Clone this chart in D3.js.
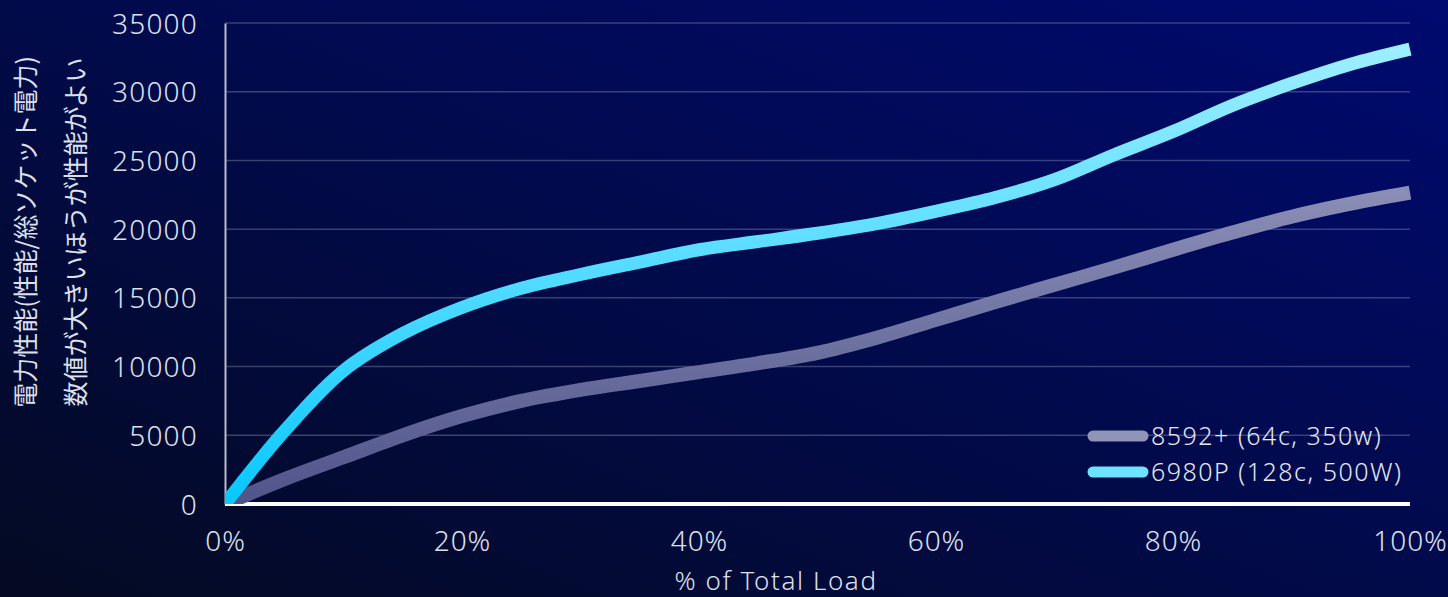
<!DOCTYPE html>
<html>
<head>
<meta charset="utf-8">
<script src="https://cdn.jsdelivr.net/npm/d3@7"></script>
<style>
  html, body { margin: 0; padding: 0; background: #020a30; }
  svg { display: block; }
  text { font-family: "Noto Sans", "Noto Sans CJK JP", sans-serif; }
</style>
</head>
<body>
<script>
const loadPct = [0, 5, 10, 15, 20, 25, 30, 35, 40, 45, 50, 55, 60, 65, 70, 75, 80, 85, 90, 95, 100];
const p8592 = [0, 1800, 3400, 5000, 6400, 7500, 8300, 8950, 9600, 10250, 11000, 12100, 13400, 14700, 15950, 17200, 18500, 19750, 20900, 21850, 22650];
const p6980 = [0, 5300, 9700, 12400, 14300, 15700, 16700, 17600, 18500, 19100, 19700, 20400, 21300, 22300, 23600, 25400, 27100, 29000, 30600, 32000, 33100];
const yTicks = [0, 5000, 10000, 15000, 20000, 25000, 30000, 35000];
const xTicks = [0, 20, 40, 60, 80, 100];
const seriesNames = ["8592+ (64c, 350w)", "6980P (128c, 500W)"];
const yTitle = ["電力性能(性能/総ソケット電力)", "数値が大きいほうが性能がよい"];
const xTitle = "% of Total Load";

const W = 1448, H = 597;
const plot = { left: 225, right: 1410, top: 23, bottom: 504 };

const svg = d3.select("body").append("svg")
  .attr("width", W)
  .attr("height", H);

const defs = svg.append("defs");

// background
const bg = defs.append("linearGradient")
  .attr("id", "bg")
  .attr("x1", 0).attr("y1", 1).attr("x2", 1).attr("y2", 0);
bg.append("stop").attr("offset", 0).attr("stop-color", "#040a22");
bg.append("stop").attr("offset", 0.45).attr("stop-color", "#020a46");
bg.append("stop").attr("offset", 1).attr("stop-color", "#000a70");

svg.append("rect")
  .attr("width", W)
  .attr("height", H)
  .attr("fill", "url(#bg)");

// line gradients (vertical)
function vGrad(id, low, high) {
  const g = defs.append("linearGradient")
    .attr("id", id)
    .attr("gradientUnits", "userSpaceOnUse")
    .attr("x1", 0).attr("y1", plot.bottom).attr("x2", 0).attr("y2", 40);
  g.append("stop").attr("offset", 0).attr("stop-color", low);
  g.append("stop").attr("offset", 1).attr("stop-color", high);
}
vGrad("gGray", "#50548a", "#a6aacb");
vGrad("gCyan", "#08c8ff", "#a0efff");

defs.append("clipPath").attr("id", "plotClip")
  .append("rect")
  .attr("x", plot.left).attr("y", 0)
  .attr("width", plot.right - plot.left + 2).attr("height", plot.bottom);

const x = d3.scaleLinear().domain([0, 100]).range([plot.left, plot.right]);
const y = d3.scaleLinear().domain([0, 35000]).range([plot.bottom, plot.top]);

// gridlines
svg.append("g")
  .selectAll("line")
  .data(yTicks.filter(d => d > 0))
  .enter()
  .append("line")
  .attr("x1", plot.left)
  .attr("x2", plot.right)
  .attr("y1", d => y(d))
  .attr("y2", d => y(d))
  .attr("stroke", "rgba(200,205,235,0.28)")
  .attr("stroke-width", 1.5);

// y axis
const yAxis = svg.append("g")
  .attr("transform", `translate(${plot.left},0)`)
  .call(d3.axisLeft(y).tickValues(yTicks).tickSize(0).tickPadding(27).tickFormat(d3.format("d")));
yAxis.select(".domain")
  .attr("stroke", "#b8bccc")
  .attr("stroke-width", 2);
yAxis.selectAll("text")
  .attr("fill", "#dde0ec")
  .style("font-size", "28px")
  .style("font-weight", 300)
  .style("letter-spacing", "1.2px")
  .attr("dy", "0.36em");

// x axis
const xAxis = svg.append("g")
  .attr("transform", `translate(0,${plot.bottom})`)
  .call(d3.axisBottom(x).tickValues(xTicks).tickSize(0).tickPadding(27).tickFormat(d => d + "%"));
xAxis.select(".domain").remove();
xAxis.selectAll("text")
  .attr("fill", "#dde0ec")
  .style("font-size", "28px")
  .style("font-weight", 300)
  .style("letter-spacing", "1px");

svg.append("line")
  .attr("x1", plot.left)
  .attr("x2", plot.right)
  .attr("y1", plot.bottom)
  .attr("y2", plot.bottom)
  .attr("stroke", "#ffffff")
  .attr("stroke-width", 4);

// lines
const line = d3.line()
  .x((d, i) => x(loadPct[i]))
  .y(d => y(d))
  .curve(d3.curveCatmullRom.alpha(0.5));

const series = [
  { name: seriesNames[0], values: p8592, stroke: "url(#gGray)", width: 14 },
  { name: seriesNames[1], values: p6980, stroke: "url(#gCyan)", width: 13 }
];

svg.append("g")
  .attr("clip-path", "url(#plotClip)")
  .selectAll("path")
  .data(series)
  .enter()
  .append("path")
  .attr("d", d => line(d.values))
  .attr("fill", "none")
  .attr("stroke", d => d.stroke)
  .attr("stroke-width", d => d.width);

// axis titles
svg.append("text")
  .attr("x", 776)
  .attr("y", 590)
  .attr("text-anchor", "middle")
  .attr("fill", "#dde0ec")
  .style("font-size", "26px")
  .style("font-weight", 300)
  .style("letter-spacing", "1.6px")
  .text(xTitle);

svg.selectAll(".ytitle")
  .data(yTitle)
  .enter()
  .append("text")
  .attr("class", "ytitle")
  .attr("transform", (d, i) => `translate(${35 + i * 50},232) rotate(-90)`)
  .attr("text-anchor", "middle")
  .attr("fill", "#dde0ec")
  .style("font-family", "'Noto Sans CJK JP', sans-serif")
  .style("font-size", "25px")
  .text(d => d);

// legend
const legendSwatch = ["#9094b8", "#6ee2ff"];
const legend = svg.selectAll(".legend")
  .data(series)
  .enter()
  .append("g")
  .attr("class", "legend")
  .attr("transform", (d, i) => `translate(1088,${436 + i * 36})`);

legend.append("line")
  .attr("x1", 5)
  .attr("x2", 55)
  .attr("stroke", (d, i) => legendSwatch[i])
  .attr("stroke-width", 11)
  .attr("stroke-linecap", "round");

legend.append("text")
  .attr("x", 63)
  .attr("dy", "0.36em")
  .attr("fill", "#e6e8f2")
  .style("font-size", "25px")
  .style("font-weight", 300)
  .style("letter-spacing", "1.5px")
  .text(d => d.name);
</script>
</body>
</html>
